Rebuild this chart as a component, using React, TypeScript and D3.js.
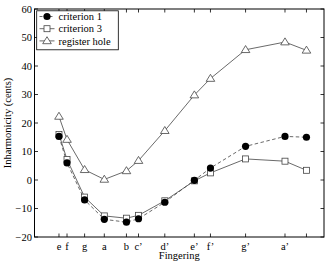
import React from "react";
import * as d3 from "d3";

const noteLabels = ["e", "f", "g", "a", "b", "c’", "d’", "e’", "f’", "g’", "a’", ""];
const noteFreqs = [329.6, 349.2, 392.0, 440.0, 493.9, 523.3, 587.3, 659.3, 698.5, 784.0, 880.0, 932.3];
const criterion1 = [15.3, 6.0, -7.0, -13.8, -14.8, -13.6, -7.8, -0.1, 4.2, 11.8, 15.3, 15.0];
const criterion3 = [16.0, 7.2, -6.0, -12.6, -13.4, -12.4, -7.3, -0.3, 2.5, 7.4, 6.6, 3.4];
const registerHole = [22.3, 14.2, 3.6, 0.2, 3.2, 6.8, 17.3, 29.8, 35.6, 45.7, 48.4, 45.5];
const yTicks = [60, 50, 40, 30, 20, 10, 0, -10, -20];

const W = 327, H = 262;
const L = 34.5, R = 324, T = 9, B = 237;
const FONT = "Liberation Serif, DejaVu Serif, Noto Serif, serif";

export default function App() {
  const x = d3.scaleLinear().domain([270, 975]).range([L, R]);
  const y = d3.scaleLinear().domain([-20, 60]).range([B, T]);
  const line = d3.line<number>().x((_, i) => x(noteFreqs[i])).y((d) => y(d));

  const circle = (cx: number, cy: number, k: string) => (
    <circle key={k} cx={cx} cy={cy} r={3.6} fill="#000" />
  );
  const square = (cx: number, cy: number, k: string) => (
    <rect key={k} x={cx - 3} y={cy - 3} width={6} height={6} fill="#fff" stroke="#444" strokeWidth={0.8} />
  );
  const tri = (cx: number, cy: number, k: string) => (
    <path key={k} d={`M${cx},${cy - 4.2}L${cx + 4.3},${cy + 2.8}L${cx - 4.3},${cy + 2.8}Z`} fill="#fff" stroke="#444" strokeWidth={0.8} />
  );
  const fmt = (v: number) => (v < 0 ? "−" + Math.abs(v) : String(v));

  const legend = [
    { name: "criterion 1", dash: "3,2", mk: circle },
    { name: "criterion 3", dash: undefined, mk: square },
    { name: "register hole", dash: undefined, mk: tri },
  ];

  return (
    <div style={{ position: "fixed", left: 0, top: 0 }}>
      <svg width={W} height={H} fontFamily={FONT} style={{ display: "block", background: "#fff" }}>
        {yTicks.map((t) => (
          <g key={"y" + t}>
            <line x1={L} x2={L + 3.5} y1={y(t)} y2={y(t)} stroke="#000" strokeWidth={0.8} />
            <line x1={R} x2={R - 3.5} y1={y(t)} y2={y(t)} stroke="#000" strokeWidth={0.8} />
            <text x={L - 2.5} y={y(t)} dy="0.35em" textAnchor="end" fontSize={10.5} fontFamily={FONT}>{fmt(t)}</text>
          </g>
        ))}
        {noteFreqs.map((f, i) => (
          <g key={"x" + i}>
            <line x1={x(f)} x2={x(f)} y1={B} y2={B - 3.5} stroke="#000" strokeWidth={0.8} />
            <line x1={x(f)} x2={x(f)} y1={T} y2={T + 3.5} stroke="#000" strokeWidth={0.8} />
            <text x={x(f)} y={249.5} textAnchor="middle" fontSize={10.5} fontFamily={FONT}>{noteLabels[i]}</text>
          </g>
        ))}
        <path d={line(registerHole) || ""} fill="none" stroke="#444" strokeWidth={0.8} />
        <path d={line(criterion3) || ""} fill="none" stroke="#444" strokeWidth={0.8} />
        <path d={line(criterion1) || ""} fill="none" stroke="#444" strokeWidth={0.8} strokeDasharray="3.5,2.5" />
        {registerHole.map((v, i) => tri(x(noteFreqs[i]), y(v), "rh" + i))}
        {criterion3.map((v, i) => square(x(noteFreqs[i]), y(v), "c3" + i))}
        {criterion1.map((v, i) => circle(x(noteFreqs[i]), y(v), "c1" + i))}
        <rect x={L} y={T} width={R - L} height={B - T} fill="none" stroke="#000" strokeWidth={1} />
        <rect x={36.7} y={10.8} width={81.6} height={39} fill="#fff" stroke="#000" strokeWidth={0.8} />
        {legend.map((e, i) => {
          const ly = 16.5 + i * 12.2;
          return (
            <g key={"lg" + i}>
              <line x1={39.5} x2={54.5} y1={ly} y2={ly} stroke="#444" strokeWidth={0.8} strokeDasharray={e.dash} />
              {e.mk(47, ly, "lm" + i)}
              <text x={58.5} y={ly} dy="0.35em" fontSize={10.5} fontFamily={FONT}>{e.name}</text>
            </g>
          );
        })}
        <text x={(L + R) / 2} y={259} textAnchor="middle" fontSize={10.5} fontFamily={FONT}>Fingering</text>
        <text transform={`translate(11,${(T + B) / 2}) rotate(-90)`} textAnchor="middle" fontSize={10.5} fontFamily={FONT}>Inharmonicity (cents)</text>
      </svg>
    </div>
  );
}
